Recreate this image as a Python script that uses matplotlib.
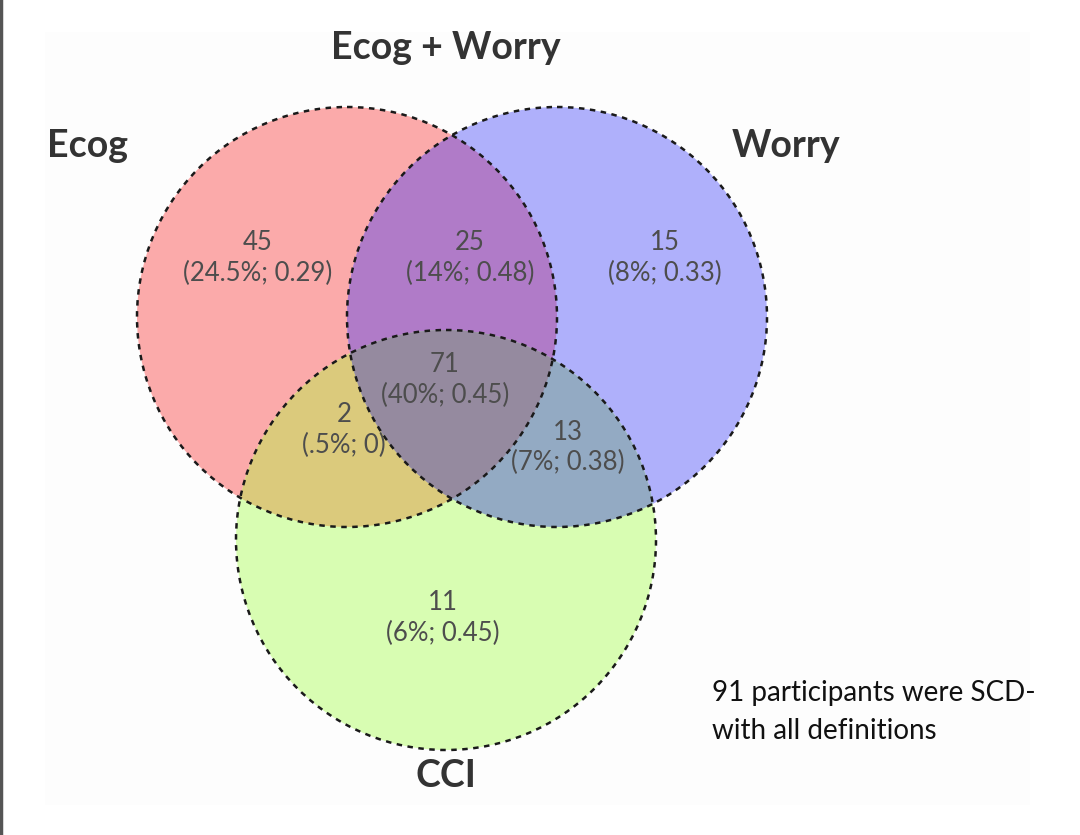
import numpy as np
import matplotlib.pyplot as plt
from matplotlib.patches import Circle, Polygon, Rectangle

# sets and region values
set_names = ["Ecog", "Worry", "CCI"]
title_top = "Ecog + Worry"
region_keys = ["E", "EW", "W", "EWC", "EC", "WC", "C"]
region_n = [45, 25, 15, 71, 2, 13, 11]
region_pct = ["24.5%", "14%", "8%", "40%", ".5%", "7%", "6%"]
region_val = ["0.29", "0.48", "0.33", "0.45", "0", "0.38", "0.45"]
note_lines = ["91 participants were SCD-", "with all definitions"]

# layout (pixel space of the 1080x835 picture)
centers = {"Ecog": (347, 317), "Worry": (557, 317), "CCI": (446, 540)}
radius = 210
set_colors = {"Ecog": "#fbaaaa", "Worry": "#afb0fb", "CCI": "#d8fdb2"}
overlap_colors = {"EW": "#b07bc8", "EC": "#dbca7c", "WC": "#93aac3", "EWC": "#958a9f"}
label_pos = {"E": (258, 258), "EW": (470, 258), "W": (665, 258),
             "EWC": (445, 380), "EC": (344, 430), "WC": (568, 447), "C": (443, 618)}

fig = plt.figure(figsize=(10.8, 8.35), dpi=100)
ax = fig.add_axes([0, 0, 1, 1])
ax.set_xlim(0, 1080)
ax.set_ylim(835, 0)
ax.set_aspect("equal")
ax.axis("off")

ax.add_patch(Rectangle((45, 32), 985, 773, facecolor="#fdfdfd", edgecolor="none"))
ax.plot([1, 1], [0, 835], color="#555555", lw=2.5)


def circ(name, **kw):
    return Circle(centers[name], radius, **kw)


def lens(a, b, n=720):
    # intersection of two circles as a polygon
    t = np.linspace(0, 2 * np.pi, n)
    pts = []
    for p, q in ((a, b), (b, a)):
        cx, cy = centers[p]
        xs, ys = cx + radius * np.cos(t), cy + radius * np.sin(t)
        qx, qy = centers[q]
        inside = (xs - qx) ** 2 + (ys - qy) ** 2 <= radius ** 2
        pts.append(np.column_stack([xs[inside], ys[inside]]))
    pts = np.vstack(pts)
    c = pts.mean(axis=0)
    order = np.argsort(np.arctan2(pts[:, 1] - c[1], pts[:, 0] - c[0]))
    return pts[order]


for name in set_names:
    ax.add_patch(circ(name, facecolor=set_colors[name], edgecolor="none"))

p = ax.add_patch(circ("Worry", facecolor=overlap_colors["EW"], edgecolor="none"))
p.set_clip_path(circ("Ecog", transform=ax.transData))
p = ax.add_patch(circ("CCI", facecolor=overlap_colors["EC"], edgecolor="none"))
p.set_clip_path(circ("Ecog", transform=ax.transData))
p = ax.add_patch(circ("CCI", facecolor=overlap_colors["WC"], edgecolor="none"))
p.set_clip_path(circ("Worry", transform=ax.transData))
lens_EW = Polygon(lens("Ecog", "Worry"), closed=True, transform=ax.transData)
p = ax.add_patch(circ("CCI", facecolor=overlap_colors["EWC"], edgecolor="none"))
p.set_clip_path(lens_EW)

for name in set_names:
    ax.add_patch(circ(name, facecolor="none", edgecolor="#1a1a1a", lw=1.8,
                      linestyle=(0, (2.2, 2.2))))

for k, n, pc, v in zip(region_keys, region_n, region_pct, region_val):
    x, y = label_pos[k]
    ax.text(x, y - 15, str(n), ha="center", va="center", fontsize=18.5,
            family="Lato", color="#4d4d4d")
    ax.text(x, y + 15, f"({pc}; {v})", ha="center", va="center", fontsize=18.5,
            family="Lato", color="#4d4d4d")

head = dict(ha="center", va="center", fontsize=27, family="Lato",
            weight="bold", color="#333333")
ax.text(88, 146, set_names[0], **head)
ax.text(786, 146, set_names[1], **head)
ax.text(446, 48, title_top, **head)
ax.text(446, 776, set_names[2], **head)

ax.text(712, 693, note_lines[0], ha="left", va="center", fontsize=20,
        family="Lato", color="#111111")
ax.text(712, 731, note_lines[1], ha="left", va="center", fontsize=20,
        family="Lato", color="#111111")

fig.savefig("out.png", dpi=100)
